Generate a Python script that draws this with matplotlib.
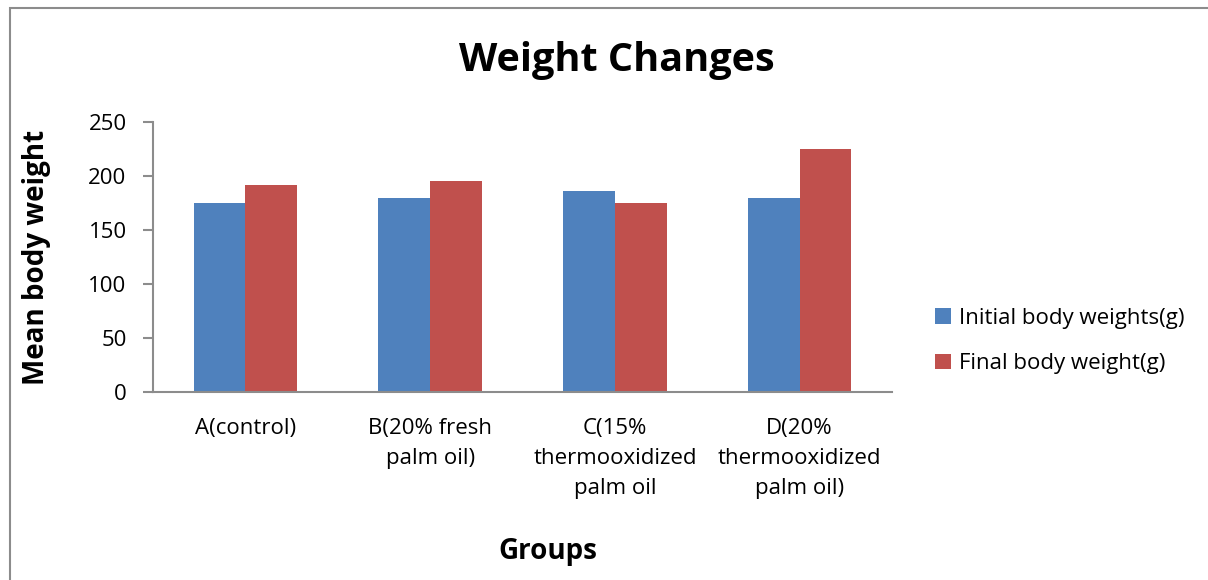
import numpy as np
import matplotlib.pyplot as plt
from matplotlib.patches import Rectangle

plt.rcParams['font.family'] = ['Open Sans', 'DejaVu Sans']

groups = ["A(control)", "B(20% fresh\npalm oil)", "C(15%\nthermooxidized\npalm oil",
          "D(20%\nthermooxidized\npalm oil)"]
initial = [175, 180, 186, 180]
final = [192, 195, 175, 225]
series_names = ["Initial body weights(g)", "Final body weight(g)"]

fig = plt.figure(figsize=(12.08, 5.8), dpi=100)
fig.patch.set_facecolor('white')
# outer chart frame, Excel style
fig.patches.append(Rectangle((10 / 1208, -0.05), 1.2, (580 - 8) / 580 + 0.05,
                             transform=fig.transFigure, fill=False,
                             edgecolor='#8c8c8c', linewidth=1.5))

ax = fig.add_axes([153 / 1208, 1 - 392 / 580, (892 - 153) / 1208, (392 - 122) / 580])
x = np.arange(len(groups))
w = 0.28
ax.bar(x - w / 2, initial, w, color='#4f81bd', label=series_names[0])
ax.bar(x + w / 2, final, w, color='#c0504d', label=series_names[1])

ax.set_xlim(-0.5, len(groups) - 0.5)
ax.set_ylim(0, 250)
ax.set_yticks(range(0, 251, 50))
ax.set_xticks(x)
ax.set_xticklabels(groups, fontsize=16, linespacing=1.55, va='top')
ax.tick_params(axis='x', length=0, pad=19)
ax.tick_params(axis='y', length=7, width=1.5, color='#8c8c8c', labelsize=16, pad=12)
for s in ['top', 'right']:
    ax.spines[s].set_visible(False)
for s in ['left', 'bottom']:
    ax.spines[s].set_color('#8c8c8c')
    ax.spines[s].set_linewidth(1.5)

fig.text(617 / 1208, 1 - 61 / 580, "Weight Changes", fontsize=28.5, fontweight='bold',
         ha='center', va='center')
fig.text(37 / 1208, 1 - 257 / 580, "Mean body weight", fontsize=20, fontweight='bold',
         rotation=90, ha='center', va='center')
fig.text(548 / 1208, 1 - 551 / 580, "Groups", fontsize=20, fontweight='bold',
         ha='center', va='center')

ax.legend(loc='center left', bbox_to_anchor=(915 / 1208, 1 - 341 / 580),
          bbox_transform=fig.transFigure, frameon=False, fontsize=16,
          handlelength=0.7, handleheight=0.7, handletextpad=0.4, labelspacing=1.1)

fig.savefig('out.png', dpi=100, facecolor='white')
